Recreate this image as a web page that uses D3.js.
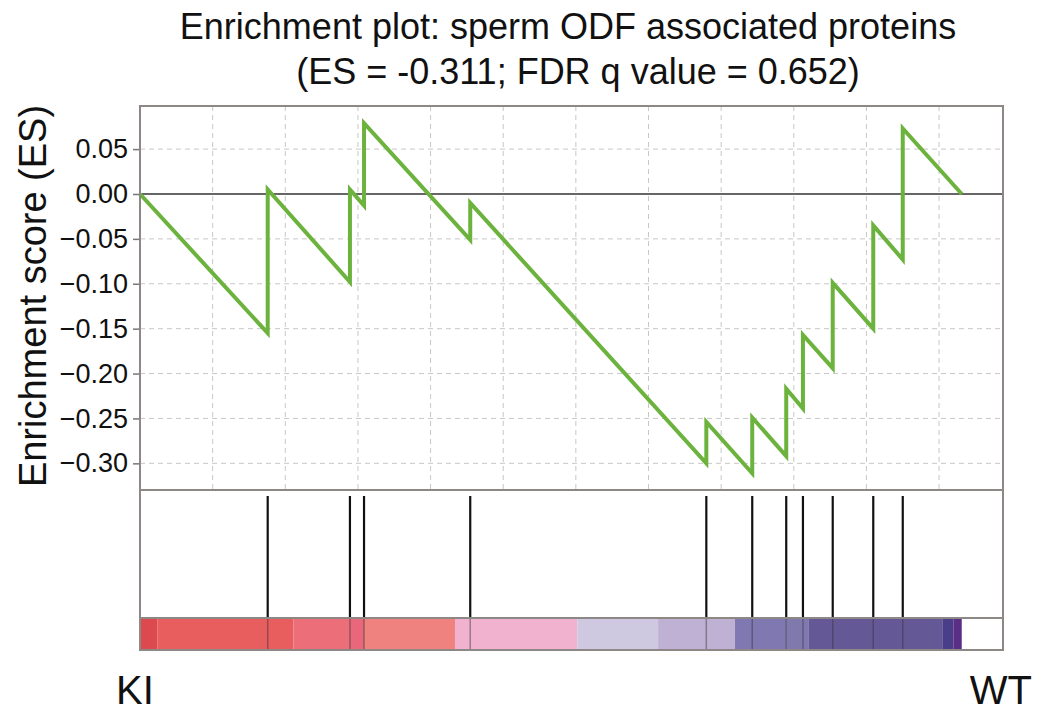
<!DOCTYPE html>
<html>
<head>
<meta charset="utf-8">
<title>Enrichment plot</title>
<style>
  body { margin: 0; background: #fff; }
  svg text { font-family: "Liberation Sans", Arial, sans-serif; fill: #111; }
  .grid line { stroke: #c9c6c6; stroke-width: 1; stroke-dasharray: 5,4; }
</style>
<script src="https://cdn.jsdelivr.net/npm/d3@7"></script>
</head>
<body>
<script>
// ranked list length and x extent of the plot
var listLength = 5656;
var xMax = 5940;
var xTicks = [500, 1000, 1500, 2000, 2500, 3000, 3500, 4000, 4500, 5000, 5500];

// gene set hits (rank) and running ES just before / after each hit
var hitRanks = [879, 1445, 1542, 2273, 3898, 4214, 4448, 4563, 4768, 5047, 5250];
var esBefore = [-0.155, -0.098, -0.013, -0.051, -0.300, -0.311, -0.292, -0.239, -0.194, -0.150, -0.073];
var esAfter  = [0.005, 0.005, 0.079, -0.010, -0.254, -0.249, -0.217, -0.157, -0.099, -0.035, 0.073];

var yTicks = [0.05, 0.00, -0.05, -0.10, -0.15, -0.20, -0.25, -0.30];

// ranked-list heat bar
var heatStart = [0, 119, 1055, 1445, 1542, 2168, 3010, 3566, 4095, 4448, 4563, 4600, 5522, 5598];
var heatEnd   = [119, 1055, 1445, 1542, 2168, 3010, 3566, 4095, 4448, 4563, 4600, 5522, 5598, 5656];
var heatColor = ["#dc4a4f", "#e85d5e", "#ec6e79", "#e8677a", "#ef817f", "#f0b2cf", "#cec8e1",
                 "#bfb1d4", "#8079b1", "#7f79ae", "#8079b1", "#655896", "#4a3e88", "#5a2e84"];

var W = 1037, H = 711;
var left = 140, right = 1003;
var esTop = 106, esBottom = 490, hitBottom = 618, heatBottom = 650;

var svg = d3.select("body").append("svg")
    .attr("width", W)
    .attr("height", H);

svg.append("rect").attr("width", W).attr("height", H).attr("fill", "#fff");

var x = d3.scaleLinear().domain([0, xMax]).range([left, right]);
var y = d3.scaleLinear().domain([-0.3297, 0.098]).range([esBottom, esTop]);

// grid
var grid = svg.append("g").attr("class", "grid");
grid.selectAll(".vg").data(xTicks).enter().append("line")
    .attr("x1", function(d) { return x(d); })
    .attr("x2", function(d) { return x(d); })
    .attr("y1", esTop)
    .attr("y2", esBottom);
grid.selectAll(".hg").data(yTicks.filter(function(d) { return d !== 0; })).enter().append("line")
    .attr("x1", left)
    .attr("x2", right)
    .attr("y1", function(d) { return y(d); })
    .attr("y2", function(d) { return y(d); });

// zero line
svg.append("line")
    .attr("x1", left).attr("x2", right)
    .attr("y1", y(0)).attr("y2", y(0))
    .attr("stroke", "#333").attr("stroke-width", 1.6);

// running ES curve
var pts = [[0, 0]];
for (var i = 0; i < hitRanks.length; i++) {
  pts.push([hitRanks[i], esBefore[i]]);
  pts.push([hitRanks[i], esAfter[i]]);
}
pts.push([listLength, 0]);

var line = d3.line()
    .x(function(d) { return x(d[0]); })
    .y(function(d) { return y(d[1]); });

svg.append("path")
    .datum(pts)
    .attr("d", line)
    .attr("fill", "none")
    .attr("stroke", "#6cb33e")
    .attr("stroke-width", 4)
    .attr("stroke-linejoin", "miter");

// y axis
var yAxis = svg.append("g")
    .attr("transform", "translate(" + left + ",0)")
    .call(d3.axisLeft(y).tickValues(yTicks).tickFormat(d3.format(".2f")).tickSize(7).tickPadding(5));
yAxis.select(".domain").remove();
yAxis.selectAll(".tick line").attr("stroke", "#777").attr("stroke-width", 1.5);
yAxis.selectAll(".tick text")
    .attr("font-size", 27)
    .attr("fill", "#111")
    .style("font-family", "'Liberation Sans', Arial, sans-serif");

// hit lines
svg.selectAll(".hit").data(hitRanks).enter().append("line")
    .attr("x1", function(d) { return x(d); })
    .attr("x2", function(d) { return x(d); })
    .attr("y1", esBottom + 6)
    .attr("y2", hitBottom)
    .attr("stroke", "#111")
    .attr("stroke-width", 2.2);

// heat bar
svg.selectAll(".heat").data(heatStart).enter().append("rect")
    .attr("x", function(d) { return x(d); })
    .attr("y", hitBottom)
    .attr("width", function(d, i) { return x(heatEnd[i]) - x(d); })
    .attr("height", heatBottom - hitBottom)
    .attr("fill", function(d, i) { return heatColor[i]; });

svg.selectAll(".hitheat").data(hitRanks).enter().append("line")
    .attr("x1", function(d) { return x(d); })
    .attr("x2", function(d) { return x(d); })
    .attr("y1", hitBottom)
    .attr("y2", heatBottom)
    .attr("stroke", "#333")
    .attr("stroke-opacity", 0.45)
    .attr("stroke-width", 1.5);

// frames
var frameColor = "#8d8885";
svg.append("rect")
    .attr("x", left).attr("y", esTop)
    .attr("width", right - left).attr("height", heatBottom - esTop)
    .attr("fill", "none").attr("stroke", frameColor).attr("stroke-width", 2);
svg.append("line")
    .attr("x1", left).attr("x2", right)
    .attr("y1", esBottom).attr("y2", esBottom)
    .attr("stroke", frameColor).attr("stroke-width", 2);
svg.append("line")
    .attr("x1", left).attr("x2", right)
    .attr("y1", hitBottom).attr("y2", hitBottom)
    .attr("stroke", frameColor).attr("stroke-width", 2);

// titles
svg.append("text")
    .attr("x", 568).attr("y", 39)
    .attr("text-anchor", "middle")
    .attr("font-size", 36)
    .text("Enrichment plot: sperm ODF associated proteins");
svg.append("text")
    .attr("x", 578).attr("y", 84)
    .attr("text-anchor", "middle")
    .attr("font-size", 36)
    .text("(ES = -0.311; FDR q value = 0.652)");

svg.append("text")
    .attr("transform", "translate(46,296) rotate(-90)")
    .attr("text-anchor", "middle")
    .attr("font-size", 38)
    .text("Enrichment score (ES)");

svg.append("text")
    .attr("x", 116).attr("y", 704)
    .attr("font-size", 40)
    .text("KI");
svg.append("text")
    .attr("x", 1032).attr("y", 704)
    .attr("text-anchor", "end")
    .attr("font-size", 40)
    .text("WT");
</script>
</body>
</html>
